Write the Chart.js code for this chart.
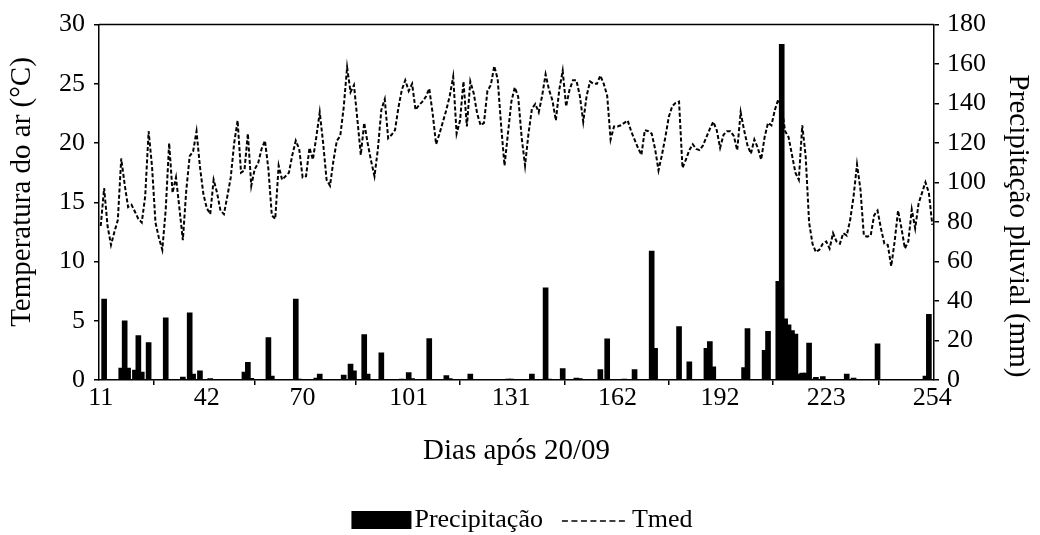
<!DOCTYPE html>
<html>
<head>
<meta charset="utf-8">
<script src="https://cdn.jsdelivr.net/npm/chart.js@4.4.1/dist/chart.umd.min.js"></script>
<style>
  html, body { margin: 0; padding: 0; background: #fff; }
  #wrap { width: 1040px; height: 535px; }
</style>
</head>
<body>
<div id="wrap"><canvas id="c" width="1040" height="535"></canvas></div>
<script>
// ---- Data ----
const firstDay = 11; // Tmed series starts at day 11, one value per day to day 254
const xTickDays = [11, 42, 70, 101, 131, 162, 192, 223, 254];
const tempTicks = [0, 5, 10, 15, 20, 25, 30];
const rainTicks = [0, 20, 40, 60, 80, 100, 120, 140, 160, 180];
const xTitle = 'Dias após 20/09';
const yLeftTitle = 'Temperatura do ar (°C)';
const yRightTitle = 'Precipitação pluvial (mm)';
const seriesNames = ['Precipitação', 'Tmed'];

// Tmed (°C), days 11..254
const tmed = [
  13.0,16.2,13.0,11.4,12.5,13.5,18.7,16.5,14.6,14.8,
  14.2,13.6,13.3,15.5,21.0,18.0,13.3,12.0,11.0,14.4,
  20.0,15.8,17.1,14.5,11.8,16.0,18.9,19.3,21.0,18.0,
  15.7,14.5,14.0,16.9,15.8,14.3,14.0,15.5,17.1,20.0,
  21.9,17.5,17.7,20.8,16.4,17.8,18.3,19.5,20.2,17.8,
  13.9,13.6,18.1,16.9,17.2,17.5,19.0,20.2,19.5,17.1,
  17.2,19.6,18.6,20.5,22.6,20.0,16.9,16.4,18.5,20.2,
  20.6,23.0,26.4,24.3,24.9,22.0,19.0,21.7,20.0,18.5,
  17.2,19.5,22.8,23.7,20.4,20.7,21.1,23.0,24.5,25.3,
  24.4,25.0,22.8,23.2,23.5,23.9,24.6,22.5,19.9,20.8,
  21.8,22.8,24.0,25.6,20.8,21.9,25.2,21.4,25.2,24.2,
  22.5,21.5,21.7,24.4,24.9,26.5,25.4,21.5,18.1,20.8,
  23.5,24.7,23.9,20.5,18.1,20.8,22.9,23.3,22.6,24.0,
  25.8,24.5,23.6,21.9,24.5,26.1,23.1,24.5,25.3,25.3,
  24.0,21.8,24.0,25.2,25.0,25.0,25.7,25.0,24.0,20.3,
  21.4,21.4,21.5,21.7,21.9,21.0,20.3,19.6,19.0,21.1,
  21.0,20.8,19.5,17.7,19.0,20.5,22.2,23.1,23.4,23.5,
  17.9,18.6,19.4,19.9,19.5,19.4,19.8,20.5,21.2,21.8,
  21.1,19.6,20.7,21.0,21.0,20.6,19.4,22.6,21.1,19.8,
  19.1,20.3,19.6,18.6,20.5,21.7,21.5,22.8,23.7,23.0,
  21.0,20.5,19.0,17.5,16.9,21.5,18.9,13.3,11.5,10.8,
  11.0,11.5,11.7,11.1,12.4,11.7,11.5,12.4,12.2,13.5,
  15.5,18.2,16.1,12.2,12.1,12.2,13.9,14.3,12.8,11.5,
  11.4,9.6,11.7,14.3,12.8,11.1,11.7,14.4,12.8,14.9,
  15.8,16.7,15.8,13.1
];

// Precipitação (mm): days with rain and amounts
const rainDays = [12,17,18,19,21,22,23,25,30,35,37,38,40,43,53,54,55,60,61,68,69,74,75,82,84,85,88,89,93,99,101,102,107,112,113,119,130,131,137,141,142,146,150,151,157,159,164,167,172,173,180,183,188,189,190,191,192,193,194,199,200,205,206,208,209,210,211,212,213,214,215,216,217,218,219,220,222,225,229,231,238,247,248,249,250,252,253];
const rainMm   = [41,6,30,6,5,22.5,4,19,31.5,1.5,34,3,4.7,0.7,4,9,0.8,21.5,2,41,0.5,1,3,2.5,8,4.7,23,3,13.7,0.5,3.7,0.7,21,2.3,0.7,3,0.5,0.5,3,46.7,0.5,5.8,1,0.7,5.3,20.8,0.5,5.3,65.3,16,27,9.2,16,19.5,6.7,0.3,0.3,0.3,0.3,6.3,26,15,24.7,0.3,50,170,31,28,25,23.3,3,3.5,3.5,18.7,0.5,1.3,1.7,0.3,3,1,18.3,0.3,0.3,0.3,0.3,2,33.3];

// ---- Chart ----
const FAMILY = "'Liberation Serif', 'Times New Roman', serif";
const tickFont = { family: FAMILY, size: 26 };
const titleFont = { family: FAMILY, size: 29 };
const legendFontSize = 26;

const framePlugin = {
  id: 'frame',
  afterDraw(chart) {
    const { ctx, chartArea: a } = chart;
    ctx.save();
    ctx.strokeStyle = '#000';
    ctx.lineWidth = 1.5;
    ctx.beginPath();
    ctx.moveTo(a.left, a.top);
    ctx.lineTo(a.right, a.top);
    ctx.stroke();
    ctx.restore();
  }
};

// vertical axis titles (placed like the original, slightly off-centre)
const yTitlesPlugin = {
  id: 'yTitles',
  afterDraw(chart) {
    const ctx = chart.ctx;
    ctx.save();
    ctx.font = `${titleFont.size}px ${FAMILY}`;
    ctx.fillStyle = '#000';
    ctx.textAlign = 'center';
    ctx.textBaseline = 'middle';
    ctx.translate(22, 192);
    ctx.rotate(-Math.PI / 2);
    ctx.fillText(yLeftTitle, 0, 0);
    ctx.restore();
    ctx.save();
    ctx.font = `${titleFont.size}px ${FAMILY}`;
    ctx.fillStyle = '#000';
    ctx.textAlign = 'center';
    ctx.textBaseline = 'middle';
    ctx.translate(1018, 226);
    ctx.rotate(Math.PI / 2);
    ctx.fillText(yRightTitle, 0, 0);
    ctx.restore();
  }
};

const legendPlugin = {
  id: 'customLegend',
  afterDraw(chart) {
    const ctx = chart.ctx;
    ctx.save();
    ctx.font = `${legendFontSize}px ${FAMILY}`;
    ctx.fillStyle = '#000';
    ctx.textBaseline = 'middle';
    const [t1, t2] = seriesNames;
    const boxW = 60, boxH = 18, gapBox = 3, gapItems = 19, lineW = 66, gapLine = 4;
    const w1 = ctx.measureText(t1).width, w2 = ctx.measureText(t2).width;
    const total = boxW + gapBox + w1 + gapItems + lineW + gapLine + w2;
    let x = chart.width / 2 + 2 - total / 2;
    const y = 520;
    ctx.fillRect(x, y - boxH / 2, boxW, boxH);
    x += boxW + gapBox;
    ctx.fillText(t1, x, y);
    x += w1 + gapItems;
    ctx.strokeStyle = '#000';
    ctx.lineWidth = 1.5;
    ctx.setLineDash([6, 3.5]);
    ctx.beginPath();
    ctx.moveTo(x, y + 1);
    ctx.lineTo(x + lineW, y + 1);
    ctx.stroke();
    ctx.setLineDash([]);
    x += lineW + gapLine;
    ctx.fillText(t2, x, y);
    ctx.restore();
  }
};

new Chart(document.getElementById('c'), {
  data: {
    datasets: [
      {
        type: 'bar',
        label: seriesNames[0],
        data: rainDays.map((d, i) => ({ x: d, y: rainMm[i] })),
        yAxisID: 'y2',
        backgroundColor: '#000',
        borderWidth: 0,
        barThickness: 5,
        order: 0
      },
      {
        type: 'line',
        label: seriesNames[1],
        data: tmed.map((v, i) => ({ x: firstDay + i, y: v })),
        yAxisID: 'y',
        borderColor: '#000',
        borderWidth: 2,
        borderDash: [4, 2.2],
        pointRadius: 0,
        tension: 0,
        fill: false,
        order: 1
      }
    ]
  },
  options: {
    responsive: false,
    animation: false,
    layout: { padding: { left: 0, right: 0, top: 19, bottom: 0 } },
    plugins: { legend: { display: false }, tooltip: { enabled: false } },
    scales: {
      x: {
        type: 'linear',
        min: firstDay - 0.5,
        max: xTickDays[xTickDays.length - 1] + 0.5,
        offset: false,
        afterBuildTicks: s => { s.ticks = xTickDays.map(v => ({ value: v })); },
        ticks: { font: tickFont, color: '#000', padding: -2, autoSkip: false, maxRotation: 0 },
        grid: { drawOnChartArea: false, tickLength: 5, color: '#000', lineWidth: 1.5 },
        border: { color: '#000', width: 1.5 },
        title: { display: true, text: xTitle, font: titleFont, color: '#000', padding: { top: 0, bottom: 66 } },
        afterFit: s => { s.height = 155; }
      },
      y: {
        position: 'left',
        min: 0, max: 30,
        afterBuildTicks: s => { s.ticks = tempTicks.map(v => ({ value: v })); },
        ticks: { font: tickFont, color: '#000', padding: 9 },
        grid: { drawOnChartArea: false, tickLength: 5, color: '#000', lineWidth: 1.5 },
        border: { color: '#000', width: 1.5 },
        afterFit: s => { s.width = 99; }
      },
      y2: {
        position: 'right',
        min: 0, max: 180,
        afterBuildTicks: s => { s.ticks = rainTicks.map(v => ({ value: v })); },
        ticks: { font: tickFont, color: '#000', padding: 8 },
        grid: { drawOnChartArea: false, tickLength: 5, color: '#000', lineWidth: 1.5 },
        border: { color: '#000', width: 1.5 },
        afterFit: s => { s.width = 106; }
      }
    }
  },
  plugins: [framePlugin, yTitlesPlugin, legendPlugin]
});
</script>
</body>
</html>
